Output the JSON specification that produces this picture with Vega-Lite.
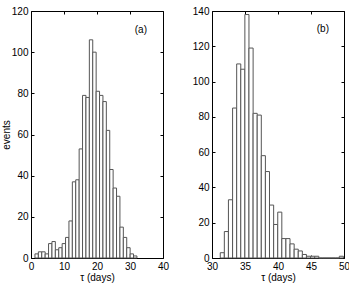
{
  "$schema": "https://vega.github.io/schema/vega-lite/v6.json",
  "padding": {"left": 0, "top": 5, "right": 0, "bottom": 0},
  "spacing": 21,
  "config": {
    "font": "Liberation Sans",
    "view": {"stroke": "#000", "strokeWidth": 1},
    "axis": {
      "domain": false,
      "grid": false,
      "ticks": true,
      "tickSize": -3,
      "tickColor": "#000",
      "labelPadding": 6,
      "labelFont": "Liberation Sans",
      "labelFontSize": 10,
      "labelColor": "#000",
      "labelFlush": false,
      "labelOverlap": false,
      "labelBound": false,
      "titleFont": "Liberation Sans",
      "titleFontSize": 10,
      "titleFontWeight": "normal",
      "titleColor": "#000",
      "titlePadding": 1
    }
  },
  "hconcat": [
    {
      "width": 132,
      "height": 247,
      "resolve": {"axis": {"x": "independent", "y": "independent"}},
      "layer": [
        {
          "data": {
            "values": [
              {"start": 1.20, "end": 2.23, "count": 2},
              {"start": 2.23, "end": 3.26, "count": 3},
              {"start": 3.26, "end": 4.29, "count": 3},
              {"start": 4.29, "end": 5.32, "count": 2},
              {"start": 5.32, "end": 6.35, "count": 7},
              {"start": 6.35, "end": 7.38, "count": 8},
              {"start": 7.38, "end": 8.41, "count": 4},
              {"start": 8.41, "end": 9.44, "count": 5},
              {"start": 9.44, "end": 10.47, "count": 7},
              {"start": 10.47, "end": 11.50, "count": 10},
              {"start": 11.50, "end": 12.53, "count": 18},
              {"start": 12.53, "end": 13.56, "count": 37},
              {"start": 13.56, "end": 14.59, "count": 38},
              {"start": 14.59, "end": 15.62, "count": 53},
              {"start": 15.62, "end": 16.65, "count": 79},
              {"start": 16.65, "end": 17.68, "count": 78},
              {"start": 17.68, "end": 18.71, "count": 106},
              {"start": 18.71, "end": 19.74, "count": 100},
              {"start": 19.74, "end": 20.77, "count": 81},
              {"start": 20.77, "end": 21.80, "count": 79},
              {"start": 21.80, "end": 22.83, "count": 76},
              {"start": 22.83, "end": 23.86, "count": 62},
              {"start": 23.86, "end": 24.89, "count": 43},
              {"start": 24.89, "end": 25.92, "count": 34},
              {"start": 25.92, "end": 26.95, "count": 30},
              {"start": 26.95, "end": 27.98, "count": 15},
              {"start": 27.98, "end": 29.01, "count": 10},
              {"start": 29.01, "end": 30.04, "count": 5},
              {"start": 30.04, "end": 31.07, "count": 2},
              {"start": 31.07, "end": 32.10, "count": 1}
            ]
          },
          "mark": {"type": "rect", "fill": "#fff", "stroke": "#555", "strokeWidth": 1},
          "encoding": {
            "x": {
              "field": "start", "type": "quantitative",
              "scale": {"domain": [0, 40], "nice": false, "zero": false},
              "axis": {"orient": "bottom", "values": [0, 10, 20, 30, 40], "title": "τ (days)"}
            },
            "x2": {"field": "end"},
            "y": {
              "field": "count", "type": "quantitative",
              "scale": {"domain": [0, 120], "nice": false},
              "axis": {"orient": "left", "values": [0, 20, 40, 60, 80, 100, 120], "title": "events", "titlePadding": 0}
            },
            "y2": {"datum": 0}
          }
        },
        {
          "data": {"values": [{"label": "(a)"}]},
          "mark": {"type": "text", "fontSize": 10, "align": "center", "baseline": "middle", "color": "#000"},
          "encoding": {
            "text": {"field": "label"},
            "x": {
              "datum": 33.3, "type": "quantitative",
              "axis": {"orient": "top", "values": [0, 10, 20, 30, 40], "labels": false, "title": null}
            },
            "y": {
              "datum": 111, "type": "quantitative",
              "axis": {"orient": "right", "values": [0, 20, 40, 60, 80, 100, 120], "labels": false, "title": null}
            }
          }
        }
      ]
    },
    {
      "width": 132,
      "height": 247,
      "resolve": {"axis": {"x": "independent", "y": "independent"}},
      "layer": [
        {
          "data": {
            "values": [
              {"start": 31.25, "end": 31.87, "count": 3},
              {"start": 31.87, "end": 32.49, "count": 15},
              {"start": 32.49, "end": 33.12, "count": 33},
              {"start": 33.12, "end": 33.74, "count": 85},
              {"start": 33.74, "end": 34.36, "count": 110},
              {"start": 34.36, "end": 34.98, "count": 107},
              {"start": 34.98, "end": 35.60, "count": 138},
              {"start": 35.60, "end": 36.23, "count": 119},
              {"start": 36.23, "end": 36.85, "count": 82},
              {"start": 36.85, "end": 37.47, "count": 81},
              {"start": 37.47, "end": 38.09, "count": 58},
              {"start": 38.09, "end": 38.71, "count": 49},
              {"start": 38.71, "end": 39.34, "count": 30},
              {"start": 39.34, "end": 39.96, "count": 19},
              {"start": 39.96, "end": 40.58, "count": 26},
              {"start": 40.58, "end": 41.20, "count": 11},
              {"start": 41.20, "end": 41.82, "count": 11},
              {"start": 41.82, "end": 42.45, "count": 8},
              {"start": 42.45, "end": 43.07, "count": 5},
              {"start": 43.07, "end": 43.69, "count": 4},
              {"start": 43.69, "end": 44.31, "count": 2},
              {"start": 44.31, "end": 44.93, "count": 1},
              {"start": 44.93, "end": 45.56, "count": 1},
              {"start": 45.56, "end": 46.18, "count": 1},
              {"start": 46.18, "end": 46.80, "count": 0},
              {"start": 46.80, "end": 47.42, "count": 0},
              {"start": 47.42, "end": 48.04, "count": 0},
              {"start": 48.04, "end": 48.67, "count": 0},
              {"start": 48.67, "end": 49.29, "count": 0},
              {"start": 49.29, "end": 49.91, "count": 1}
            ]
          },
          "mark": {"type": "rect", "fill": "#fff", "stroke": "#555", "strokeWidth": 1},
          "encoding": {
            "x": {
              "field": "start", "type": "quantitative",
              "scale": {"domain": [30, 50], "nice": false, "zero": false},
              "axis": {"orient": "bottom", "values": [30, 35, 40, 45, 50], "title": "τ (days)"}
            },
            "x2": {"field": "end"},
            "y": {
              "field": "count", "type": "quantitative",
              "scale": {"domain": [0, 140], "nice": false},
              "axis": {"orient": "left", "values": [0, 20, 40, 60, 80, 100, 120, 140], "title": null}
            },
            "y2": {"datum": 0}
          }
        },
        {
          "data": {"values": [{"label": "(b)"}]},
          "mark": {"type": "text", "fontSize": 10, "align": "center", "baseline": "middle", "color": "#000"},
          "encoding": {
            "text": {"field": "label"},
            "x": {
              "datum": 46.8, "type": "quantitative",
              "axis": {"orient": "top", "values": [30, 35, 40, 45, 50], "labels": false, "title": null}
            },
            "y": {
              "datum": 130, "type": "quantitative",
              "axis": {"orient": "right", "values": [0, 20, 40, 60, 80, 100, 120, 140], "labels": false, "title": null}
            }
          }
        }
      ]
    }
  ]
}
